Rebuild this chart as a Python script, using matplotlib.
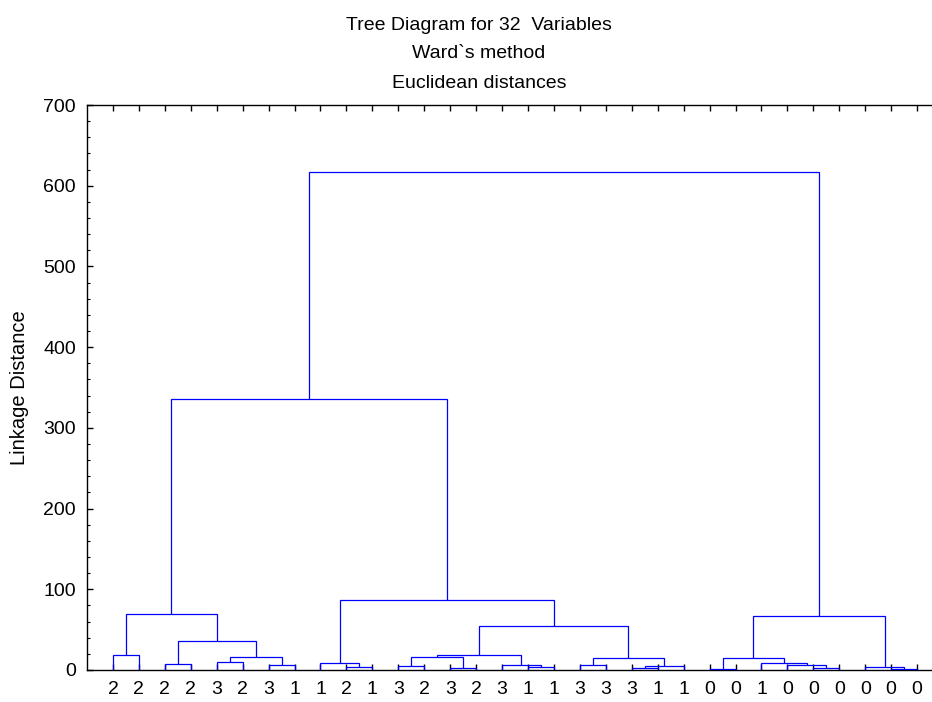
import matplotlib
matplotlib.use("Agg")
import matplotlib.pyplot as plt
from matplotlib.ticker import MultipleLocator

# ---- data ----
leaf_labels = ["2", "2", "2", "2", "3", "2", "3", "1",
               "1", "2", "1", "3", "2", "3", "2", "3",
               "1", "1", "3", "3", "3", "1", "1", "0",
               "0", "1", "0", "0", "0", "0", "0", "0"]
# merges: (child a, child b, linkage distance); leaves 0..31, new clusters 32, 33, ...
merge_a = [9, 8, 0, 2, 4, 6, 36, 35, 34, 11, 13, 41, 16, 15, 43, 18, 20, 48, 47, 46, 33, 40,
           23, 27, 26, 25, 54, 30, 29, 58, 53]
merge_b = [10, 32, 1, 3, 5, 7, 37, 38, 39, 12, 14, 42, 17, 44, 45, 19, 21, 22, 49, 50, 51, 52,
           24, 28, 55, 56, 57, 31, 59, 60, 61]
merge_h = [3.7, 8.7, 18.6, 7.2, 9.6, 6.6, 15.8, 36.5, 69.0, 5.4, 2.5, 15.7, 3.7, 6.2, 19.0,
           6.6, 2.9, 5.0, 14.5, 54.5, 86.7, 335.8,
           1.2, 2.1, 6.6, 9.1, 14.9, 1.6, 3.7, 66.9, 617.0]
y_ticks = [0, 100, 200, 300, 400, 500, 600, 700]

n = len(leaf_labels)
W, H = 932, 702
fig = plt.figure(figsize=(W / 100, H / 100), dpi=100)
plt.rcParams['font.family'] = ['Liberation Sans', 'DejaVu Sans']
FS = 14

ax_left, ax_right, ax_top, ax_bot = 87, 87 + 33 * 25.94, 105, 670
ax = fig.add_axes([ax_left / W, 1 - ax_bot / H, (ax_right - ax_left) / W, (ax_bot - ax_top) / H])

xpos = {i: i + 1 for i in range(n)}
hgt = {i: 0.0 for i in range(n)}
blue = (0, 0, 1)
lw = 0.9
for k, (a, b, h) in enumerate(zip(merge_a, merge_b, merge_h)):
    node = n + k
    xa, xb = xpos[a], xpos[b]
    ax.plot([xa, xa, xb, xb], [hgt[a], h, h, hgt[b]], color=blue, lw=lw,
            solid_joinstyle='miter', solid_capstyle='butt', zorder=3)
    xpos[node] = (xa + xb) / 2
    hgt[node] = h

ax.set_xlim(0, n + 1)
ax.set_ylim(0, 700)
ax.set_xticks(range(1, n + 1))
ax.set_xticklabels(leaf_labels)
ax.set_yticks(y_ticks)
ax.yaxis.set_minor_locator(MultipleLocator(20))
ax.tick_params(axis='x', which='major', direction='in', length=4, width=1, top=True,
               labelsize=FS, pad=8)
ax.tick_params(axis='y', which='major', direction='in', length=4, width=1, labelsize=FS, pad=8)
ax.tick_params(axis='y', which='minor', direction='in', length=2.5, width=0.8)
for s in ['left', 'bottom', 'top']:
    ax.spines[s].set_linewidth(1)
ax.spines['right'].set_visible(False)

fig.text(479 / W, 1 - 25 / H, "Tree Diagram for 32  Variables", ha='center', va='center', fontsize=FS)
fig.text(479 / W, 1 - 54 / H, "Ward`s method", ha='center', va='center', fontsize=FS)
fig.text(479 / W, 1 - 83 / H, "Euclidean distances", ha='center', va='center', fontsize=FS)
fig.text(20 / W, 1 - 388 / H, "Linkage Distance", rotation=90, ha='center', va='center', fontsize=14.5)

fig.savefig("out.png", dpi=100)
